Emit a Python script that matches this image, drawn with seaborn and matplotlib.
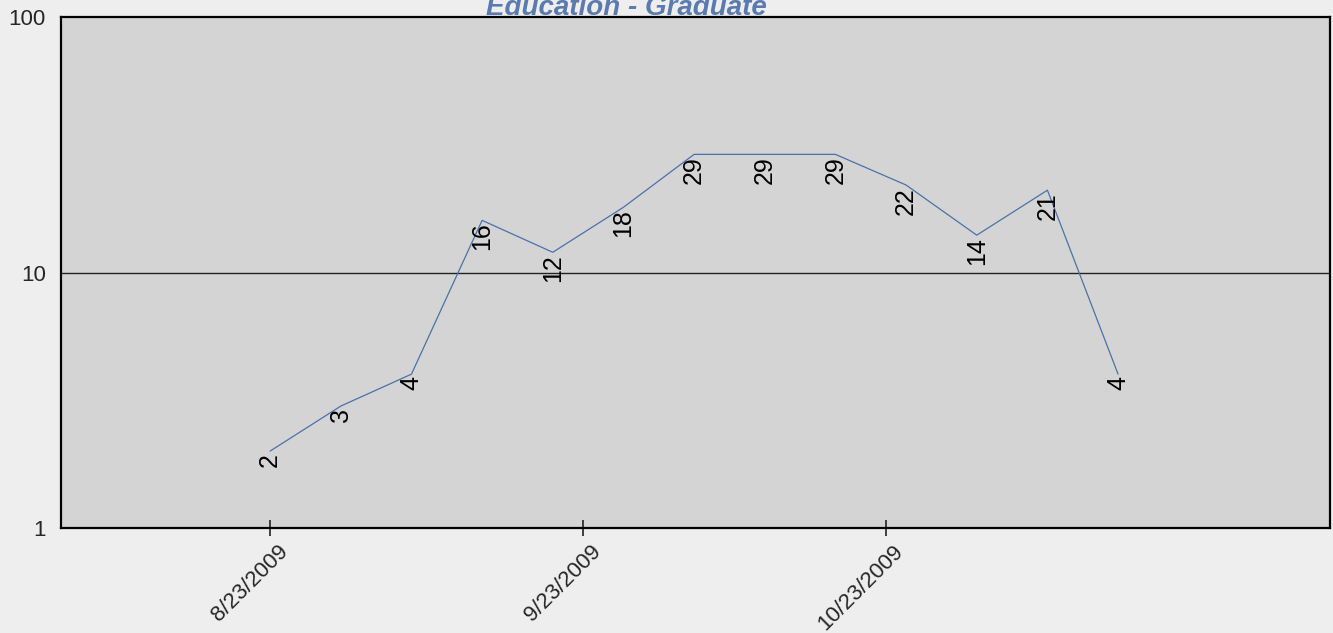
import pandas as pd
import seaborn as sns
import matplotlib.pyplot as plt
import matplotlib.transforms as mtrans
from matplotlib.ticker import FixedLocator, NullLocator, FixedFormatter

# weekly counts
weeks = ["2009-08-23", "2009-08-30", "2009-09-06", "2009-09-13", "2009-09-20",
         "2009-09-27", "2009-10-04", "2009-10-11", "2009-10-18", "2009-10-25",
         "2009-11-01", "2009-11-08", "2009-11-15"]
counts = [2, 3, 4, 16, 12, 18, 29, 29, 29, 22, 14, 21, 4]
tick_dates = ["2009-08-23", "2009-09-23", "2009-10-23"]
tick_labels = ["8/23/2009", "9/23/2009", "10/23/2009"]
y_ticks = [1, 10, 100]

df = pd.DataFrame({"week": pd.to_datetime(weeks), "count": counts})

sns.set_style("white")
plt.rcParams["font.family"] = ["Liberation Sans", "DejaVu Sans"]

fig = plt.figure(figsize=(13.33, 6.33), dpi=100, facecolor="#eeeeee")
ax = fig.add_axes([0.0458, 0.1659, 0.952, 0.8072])
ax.set_facecolor("#d4d4d4")

sns.lineplot(data=df, x="week", y="count", ax=ax, color="#4a72a8", linewidth=0.9)

ax.set_yscale("log")
ax.set_ylim(1, 100)
ax.yaxis.set_major_locator(FixedLocator(y_ticks))
ax.yaxis.set_major_formatter(FixedFormatter([str(v) for v in y_ticks]))
ax.yaxis.set_minor_locator(NullLocator())
ax.axhline(10, color="#222222", linewidth=1.0, zorder=1)

ax.set_xlim(pd.Timestamp("2009-08-02 07:00"), pd.Timestamp("2009-12-06"))
ax.set_xticks(pd.to_datetime(tick_dates))
ax.set_xticklabels(tick_labels, rotation=45, ha="right", rotation_mode="anchor", fontsize=16)
ax.tick_params(axis="x", bottom=True, direction="inout", length=11, width=1.2,
               color="#222222", pad=4)
ax.tick_params(axis="y", left=False, length=0, labelsize=16, pad=11)

# nudge the slanted date labels a little to the right, like the original
shift = mtrans.ScaledTranslation(7 / 100, 0, fig.dpi_scale_trans)
for lbl in ax.get_xticklabels():
    lbl.set_transform(lbl.get_transform() + shift)

for s in ax.spines.values():
    s.set_color("black")
    s.set_linewidth(1.6)
    s.set_visible(True)

for d, v in zip(df["week"], df["count"]):
    ax.annotate(str(v), (d, v), xytext=(0, -1.5), textcoords="offset points",
                rotation=90, ha="center", va="top", fontsize=18, color="black")

ax.set_xlabel("")
ax.set_ylabel("")
fig.text(0.47, 0.988, "Education - Graduate", ha="center", va="center",
         fontsize=20, fontweight="bold", fontstyle="italic", color="#5b7bb0")

fig.savefig("out.png", dpi=100, facecolor=fig.get_facecolor())
